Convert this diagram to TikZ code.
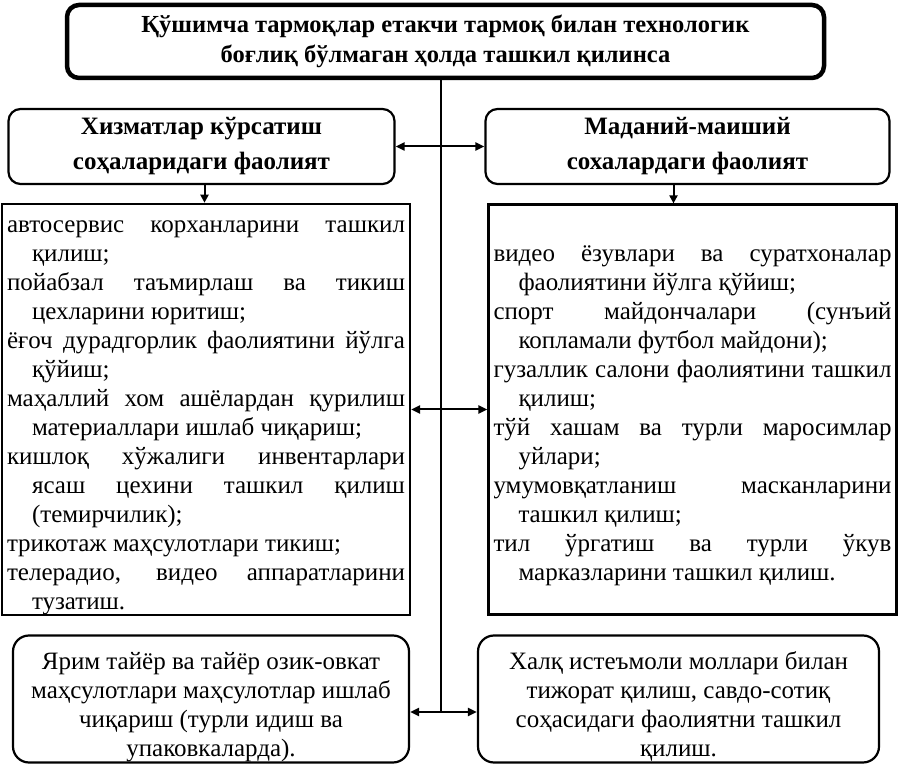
\documentclass[tikz,border=0pt]{standalone}
\usepackage{fontspec}
\setmainfont{Liberation Serif}
\usetikzlibrary{arrows.meta}
\newcommand\hitem{\par\hangindent=25pt\hangafter=1\noindent}

\begin{document}
\begin{tikzpicture}[x=1pt,y=1pt]
  \tikzset{
    main box/.style={draw,rounded corners=12pt,line width=4.5pt,minimum width=757pt,minimum height=73pt,align=center,font=\fontsize{24.5}{30}\selectfont\bfseries},
    head box/.style={draw,rounded corners=12pt,line width=2.2pt,minimum width=#1,minimum height=75pt,align=center,font=\fontsize{25}{30}\selectfont\bfseries},
    list box/.style={draw,line width=2.2pt,inner xsep=5pt,inner ysep=0pt,minimum height=410pt,text width=398pt,align=justify,font=\fontsize{25}{29}\selectfont},
    leaf box/.style={draw,rounded corners=16pt,line width=2.2pt,inner ysep=0pt,minimum width=#1,minimum height=127pt,align=center,font=\fontsize{25}{29}\selectfont},
    link/.style={line width=2pt,{Triangle[length=9pt,width=8pt]}-{Triangle[length=9pt,width=8pt]}},
    down/.style={line width=2pt,-{Triangle[length=8pt,width=8pt]}}
  }
  \useasboundingbox (0,0) rectangle (899,767);

  \node[main box] (top) at (445.5,725.5) {Қўшимча тармоқлар етакчи тармоқ билан технологик\\боғлиқ бўлмаган ҳолда ташкил қилинса};

  \node[head box=386pt] (serv) at (201.5,620.5) {Хизматлар кўрсатиш\\[5pt]соҳаларидаги фаолият};
  \node[head box=404pt] (cult) at (687.5,620.5) {Маданий-маиший\\[5pt]сохалардаги фаолият};

  \node[list box] (servlist) at (206,357.5) {%
    \hitem автосервис корханларини ташкил\linebreak қилиш;
    \hitem пойабзал таъмирлаш ва тикиш\linebreak цехларини юритиш;
    \hitem ёғоч дурадгорлик фаолиятини йўлга\linebreak қўйиш;
    \hitem маҳаллий хом ашёлардан қурилиш\linebreak материаллари ишлаб чиқариш;
    \hitem кишлоқ хўжалиги инвентарлари\linebreak ясаш цехини ташкил қилиш\linebreak (темирчилик);
    \hitem трикотаж маҳсулотлари тикиш;
    \hitem телерадио, видео аппаратларини\linebreak тузатиш.\par\vspace*{8pt}};
  \node[list box] (cultlist) at (692.5,357.5) {%
    \hitem видео ёзувлари ва суратхоналар\linebreak фаолиятини йўлга қўйиш;
    \hitem спорт майдончалари (сунъий\linebreak копламали футбол майдони);
    \hitem гузаллик салони фаолиятини ташкил\linebreak қилиш;
    \hitem тўй хашам ва турли маросимлар\linebreak уйлари;
    \hitem умумовқатланиш масканларини\linebreak ташкил қилиш;
    \hitem тил ўргатиш ва турли ўкув\linebreak марказларини ташкил қилиш.\par};

  \node[leaf box=396pt] (food) at (211,68) {\rule{0pt}{33pt}Ярим тайёр ва тайёр озик-овкат\\маҳсулотлари маҳсулотлар ишлаб\\чиқариш (турли идиш ва\\упаковкаларда).};
  \node[leaf box=401pt] (trade) at (678.5,68) {\rule{0pt}{33pt}Халқ истеъмоли моллари билан\\тижорат қилиш, савдо-сотиқ\\соҳасидаги фаолиятни ташкил\\қилиш.};

  % spine from the top box
  \coordinate (spine) at (441,55);
  \draw[line width=2pt] (top.south -| spine) -- (spine);

  \draw[link] (serv) -- (cult);
  \draw[link] (servlist) -- (cultlist);
  \draw[link] (food.east |- spine) -- (trade.west |- spine);

  \draw[down] ([xshift=3pt]serv.south) -- ([xshift=3pt]serv.south |- servlist.north);
  \draw[down] ([xshift=-14pt]cult.south) -- ([xshift=-14pt]cult.south |- cultlist.north);
\end{tikzpicture}
\end{document}
